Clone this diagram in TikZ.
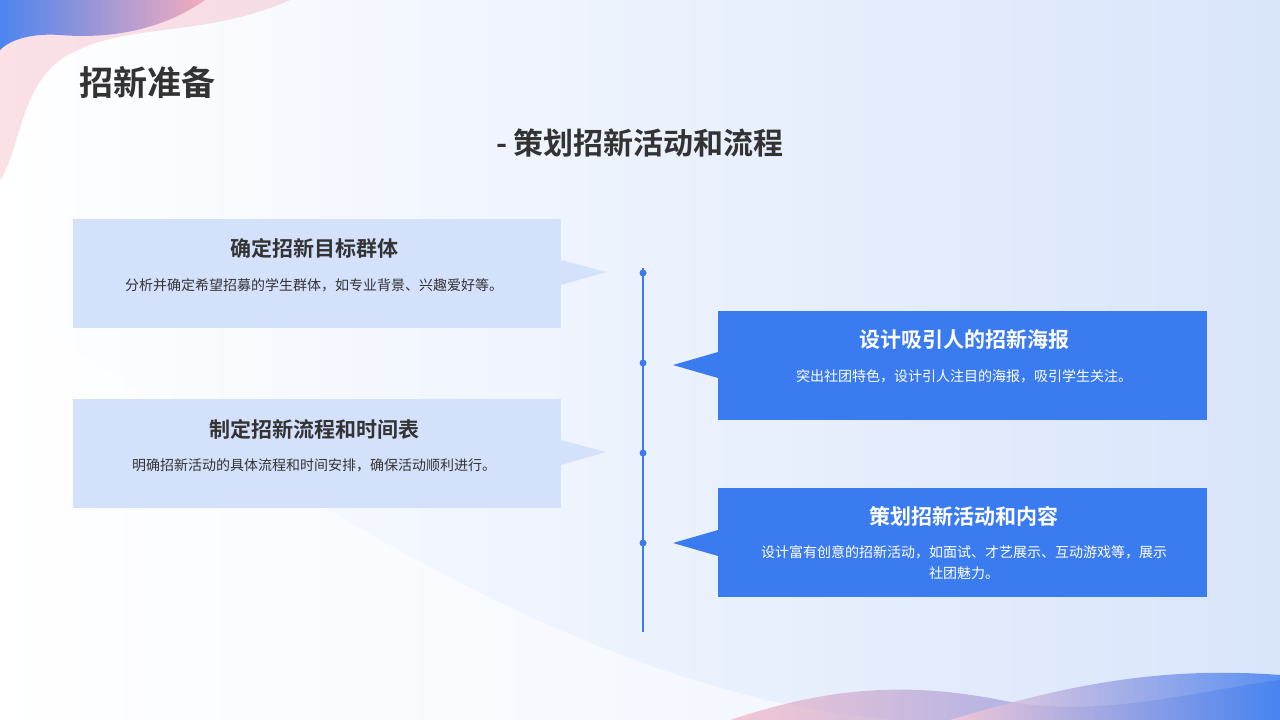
\documentclass[tikz,border=0pt]{standalone}
\usepackage{fontspec}
\newfontfamily\cjk{Noto Sans CJK SC}
\newfontfamily\cjkb{Noto Sans CJK SC Bold}
\begin{document}
\begin{tikzpicture}[x=1pt,y=-1pt,
  lbox/.style={fill=lbl,draw=none},
  rbox/.style={fill=mainblue,draw=none},
  ttl/.style={font=\cjkb\fontsize{21}{25}\selectfont,text=txt},
  desc/.style={font=\cjk\fontsize{14}{21}\selectfont,text=txt,align=center},
  dot/.style={circle,fill=mainblue,inner sep=0pt,minimum size=7pt}]
\definecolor{lbl}{HTML}{D4E1FB}
\definecolor{mainblue}{HTML}{3B7BF0}
\definecolor{txt}{HTML}{333333}
\definecolor{pinkc}{HTML}{F4A7B9}
\definecolor{bgb}{HTML}{D9E5FB}
\useasboundingbox (0,0) rectangle (1280,720);
\shade[left color=white,right color=bgb] (0,0) rectangle (1280,720);
\fill[white,opacity=0.5] (0,720) -- (0,300) .. controls (300,500) and (600,700) .. (900,720) -- cycle;
% top-left blobs
\fill[pinkc,opacity=0.35] (0,0) -- (290,0) .. controls (200,40) and (120,20) .. (60,60) .. controls (20,90) and (20,150) .. (0,180) -- cycle;
\shade[left color=mainblue,right color=pinkc,opacity=0.9] (0,0) -- (205,0) .. controls (170,25) and (120,40) .. (60,35) .. controls (30,33) and (10,40) .. (0,50) -- cycle;
% bottom-right waves
\shade[left color=pinkc,right color=mainblue,opacity=0.6] (730,720) .. controls (820,690) and (900,680) .. (1000,700) .. controls (1100,720) and (1200,690) .. (1280,680) -- (1280,720) -- cycle;
\shade[left color=pinkc!60,right color=mainblue,opacity=0.8] (950,720) .. controls (1050,690) and (1150,665) .. (1280,675) -- (1280,720) -- cycle;
% titles
\node[anchor=west,font=\cjkb\fontsize{34}{40}\selectfont,text=txt] (t) at (76,83) {招新准备};
\node[font=\cjkb\fontsize{30}{36}\selectfont,text=txt] (st) at (640,143) {- 策划招新活动和流程};
% timeline
\draw[mainblue,line width=2.5pt] (643,268) coordinate (ta) -- (643,632) coordinate (tb);
\foreach \y/\n in {273/d1,363/d2,453/d3,543/d4} \node[dot] (\n) at (643,\y) {};
% left boxes
\fill[lbl] (73,219) rectangle (561,328);
\fill[lbl] (561,260) -- (606,272) -- (561,285) -- cycle;
\node[ttl] (l1t) at (314,248) {确定招新目标群体};
\node[desc] (l1d) at (314,285) {分析并确定希望招募的学生群体，如专业背景、兴趣爱好等。};
\fill[lbl] (73,399) rectangle (561,508);
\fill[lbl] (561,440) -- (606,452) -- (561,465) -- cycle;
\node[ttl] (l2t) at (314,429) {制定招新流程和时间表};
\node[desc] (l2d) at (314,465) {明确招新活动的具体流程和时间安排，确保活动顺利进行。};
% right boxes
\fill[mainblue] (718,311) rectangle (1207,420);
\fill[mainblue] (718,352) -- (673,365) -- (718,378) -- cycle;
\node[ttl,text=white] (r1t) at (964,339) {设计吸引人的招新海报};
\node[desc,text=white] (r1d) at (964,376) {突出社团特色，设计引人注目的海报，吸引学生关注。};
\fill[mainblue] (718,488) rectangle (1207,597);
\fill[mainblue] (718,530) -- (673,543) -- (718,556) -- cycle;
\node[ttl,text=white] (r2t) at (964,516) {策划招新活动和内容};
\node[desc,text=white] (r2d) at (964,563) {设计富有创意的招新活动，如面试、才艺展示、互动游戏等，展示\\社团魅力。};
\end{tikzpicture}
\end{document}
